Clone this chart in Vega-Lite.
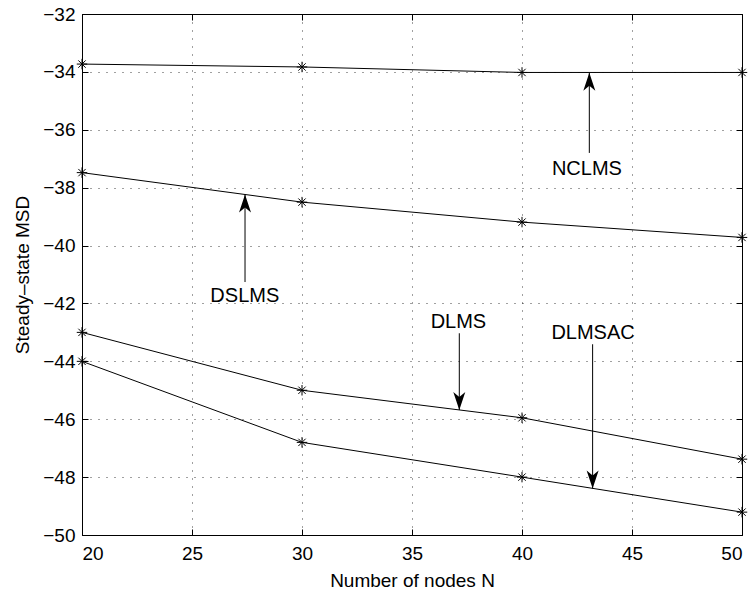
{
  "$schema": "https://vega.github.io/schema/vega-lite/v6.json",
  "width": 660,
  "height": 521,
  "autosize": "none",
  "padding": {"left": 82, "top": 14, "right": 14, "bottom": 57},
  "background": "white",
  "config": {
    "font": "Liberation Sans",
    "view": {"stroke": "black", "strokeWidth": 1},
    "axis": {
      "domain": false,
      "tickColor": "black",
      "tickSize": -6,
      "tickWidth": 1,
      "labelColor": "black",
      "labelFontSize": 19,
      "labelFont": "Liberation Sans",
      "titleFont": "Liberation Sans",
      "titleFontSize": 19,
      "titleFontWeight": "normal",
      "titleColor": "black",
      "gridColor": "#000000",
      "gridOpacity": 0.75,
      "gridDash": [1, 7],
      "gridWidth": 1
    }
  },
  "datasets": {
    "series": [
      {"algo": "NCLMS", "N": 20, "MSD": -33.73},
      {"algo": "NCLMS", "N": 30, "MSD": -33.83},
      {"algo": "NCLMS", "N": 40, "MSD": -34.02},
      {"algo": "NCLMS", "N": 50, "MSD": -34.02},
      {"algo": "DSLMS", "N": 20, "MSD": -37.48},
      {"algo": "DSLMS", "N": 30, "MSD": -38.5},
      {"algo": "DSLMS", "N": 40, "MSD": -39.19},
      {"algo": "DSLMS", "N": 50, "MSD": -39.72},
      {"algo": "DLMS", "N": 20, "MSD": -43.0},
      {"algo": "DLMS", "N": 30, "MSD": -45.0},
      {"algo": "DLMS", "N": 40, "MSD": -45.95},
      {"algo": "DLMS", "N": 50, "MSD": -47.38},
      {"algo": "DLMSAC", "N": 20, "MSD": -44.0},
      {"algo": "DLMSAC", "N": 30, "MSD": -46.8},
      {"algo": "DLMSAC", "N": 40, "MSD": -48.0},
      {"algo": "DLMSAC", "N": 50, "MSD": -49.21}
    ],
    "arrows": [
      {"label": "NCLMS", "x": 43.06, "tail": -36.8, "tip": -34.03, "dir": "up", "tx": 42.95, "ty": -37.56},
      {"label": "DSLMS", "x": 27.41, "tail": -41.26, "tip": -38.24, "dir": "up", "tx": 27.4, "ty": -41.96},
      {"label": "DLMS", "x": 37.15, "tail": -43.03, "tip": -45.68, "dir": "down", "tx": 37.11, "ty": -42.86},
      {"label": "DLMSAC", "x": 43.21, "tail": -43.41, "tip": -48.39, "dir": "down", "tx": 43.23, "ty": -43.23}
    ]
  },
  "layer": [
    {
      "data": {"name": "series"},
      "mark": {"type": "line", "color": "black", "strokeWidth": 1},
      "encoding": {
        "x": {
          "field": "N", "type": "quantitative",
          "scale": {"domain": [20, 50], "nice": false, "zero": false},
          "axis": {"orient": "bottom", "values": [20, 25, 30, 35, 40, 45, 50], "grid": true, "labelPadding": 15, "title": "Number of nodes N", "titlePadding": 8}
        },
        "y": {
          "field": "MSD", "type": "quantitative",
          "scale": {"domain": [-50, -32], "nice": false, "zero": false},
          "axis": {"orient": "left", "values": [-50, -48, -46, -44, -42, -40, -38, -36, -34, -32], "grid": true, "labelPadding": 13, "title": "Steady–state MSD", "titlePadding": 10}
        },
        "detail": {"field": "algo"}
      }
    },
    {
      "data": {"name": "series"},
      "mark": {"type": "point", "shape": "M-1,0L1,0M0,-1L0,1M-0.7,-0.7L0.7,0.7M-0.7,0.7L0.7,-0.7", "filled": false, "size": 110, "color": "black", "strokeWidth": 1, "opacity": 1},
      "encoding": {
        "x": {"field": "N", "type": "quantitative", "scale": {"domain": [20, 50], "nice": false, "zero": false},
          "axis": {"orient": "top", "values": [20, 25, 30, 35, 40, 45, 50], "grid": false, "labels": false, "title": null}},
        "y": {"field": "MSD", "type": "quantitative", "scale": {"domain": [-50, -32], "nice": false, "zero": false},
          "axis": {"orient": "right", "values": [-50, -48, -46, -44, -42, -40, -38, -36, -34, -32], "grid": false, "labels": false, "title": null}}
      }
    },
    {
      "data": {"name": "arrows"},
      "mark": {"type": "rule", "color": "black", "strokeWidth": 1},
      "encoding": {
        "x": {"field": "x", "type": "quantitative", "axis": null},
        "y": {"field": "tail", "type": "quantitative", "axis": null},
        "y2": {"field": "tip"}
      }
    },
    {
      "data": {"name": "arrows"},
      "mark": {"type": "point", "filled": true, "size": 4, "color": "black", "strokeWidth": 0, "opacity": 1},
      "encoding": {
        "x": {"field": "x", "type": "quantitative", "axis": null},
        "y": {"field": "tip", "type": "quantitative", "axis": null},
        "shape": {"field": "dir", "type": "nominal", "legend": null,
          "scale": {"domain": ["up", "down"], "range": ["M0,0L-6,18L0,13L6,18Z", "M0,0L-6,-18L0,-13L6,-18Z"]}}
      }
    },
    {
      "data": {"name": "arrows"},
      "mark": {"type": "text", "fontSize": 20, "align": "center", "baseline": "alphabetic", "color": "black", "font": "Liberation Sans"},
      "encoding": {
        "x": {"field": "tx", "type": "quantitative", "axis": null},
        "y": {"field": "ty", "type": "quantitative", "axis": null},
        "text": {"field": "label"}
      }
    }
  ],
  "resolve": {"axis": {"x": "independent", "y": "independent"}}
}
